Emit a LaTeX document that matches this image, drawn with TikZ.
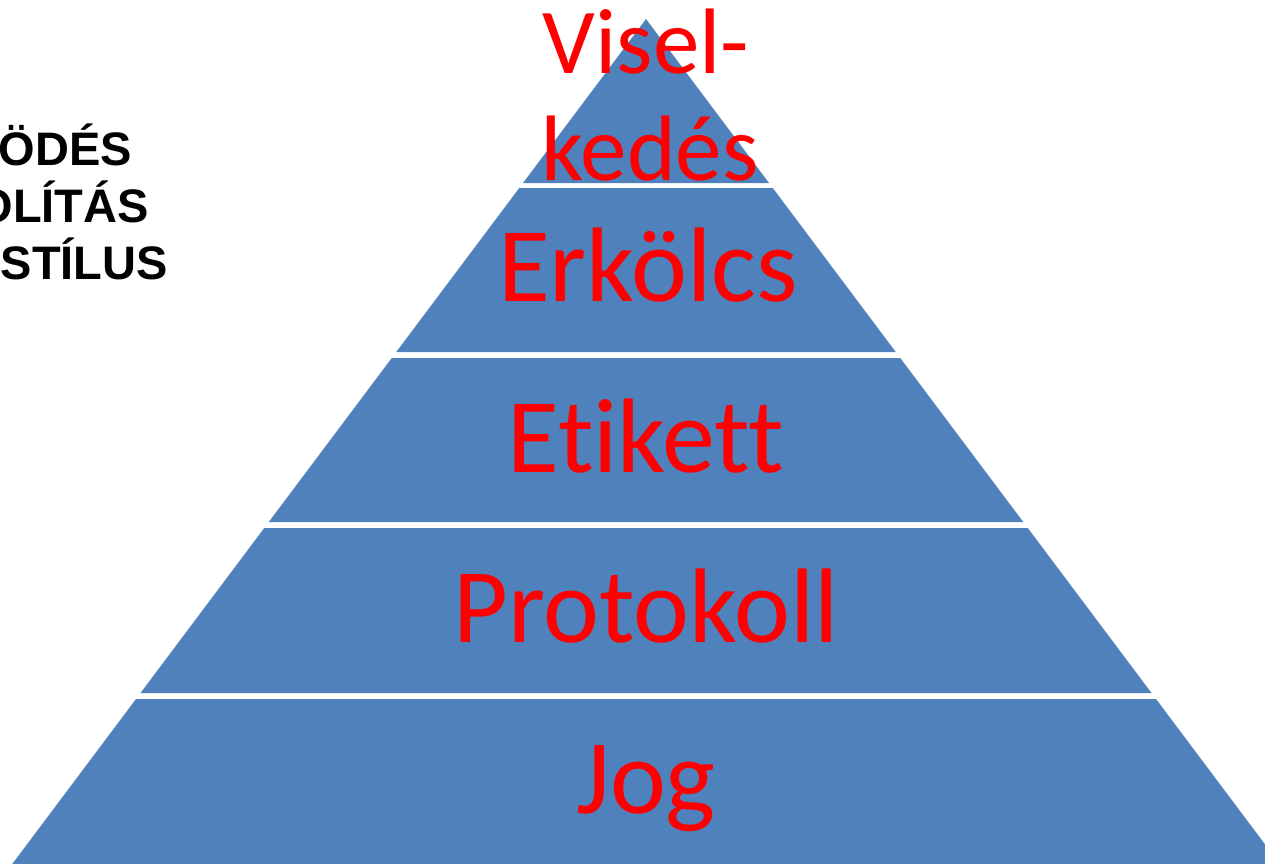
\documentclass[tikz,border=0pt]{standalone}
\usepackage{fontspec}
\setmainfont{Carlito}[Ligatures={NoCommon,NoContextual}]
\newfontfamily\arialbold[BoldFont={Liberation Sans Bold}]{Liberation Sans}
\definecolor{pyrblue}{HTML}{4F81BD}
\definecolor{pyrred}{HTML}{FF0000}
\tikzset{
  band/.style={fill=pyrblue},
  bandlabel/.style={anchor=base, inner sep=0pt, text=pyrred, font=\fontsize{106}{106}\selectfont},
  toplabel/.style={bandlabel, font=\fontsize{93}{93}\selectfont},
  sidelabel/.style={anchor=base east, inner sep=0pt, text=black, font=\arialbold\bfseries\fontsize{47}{47}\selectfont}
}
\begin{document}
\begin{tikzpicture}[x=1pt,y=-1pt]
\useasboundingbox (0,0) rectangle (1265,863);
\clip (0,0) rectangle (1265,863);
% pyramid bands: apex (646,19), half width 0.75*(y-19)
\fill[band] (646,19) -- ({646+0.75*(183-19)},183) -- ({646-0.75*(183-19)},183) -- cycle;
\foreach \t/\b in {188/352, 358/522, 528/693, 699/900}{
  \fill[band] ({646-0.75*(\t-19)},\t) -- ({646+0.75*(\t-19)},\t)
     -- ({646+0.75*(\b-19)},\b) -- ({646-0.75*(\b-19)},\b) -- cycle;
}
% labels
\node[toplabel] (visel) at (646,73) {Visel-};
\node[toplabel] (kedes) at (650,180) {kedés};
\node[bandlabel] (erkolcs) at (648,301) {Erkölcs};
\node[bandlabel] (etikett) at (646,472) {Etikett};
\node[bandlabel] (protokoll) at (646,642) {Protokoll};
\node[bandlabel] (jog) at (646,813) {Jog};
% left side text (cut off by the frame)
\node[sidelabel] (l1) at (132,165) {ÖDÉS};
\node[sidelabel] (l2) at (149,222) {OLÍTÁS};
\node[sidelabel] (l3) at (168,279) {STÍLUS};
\end{tikzpicture}
\end{document}
